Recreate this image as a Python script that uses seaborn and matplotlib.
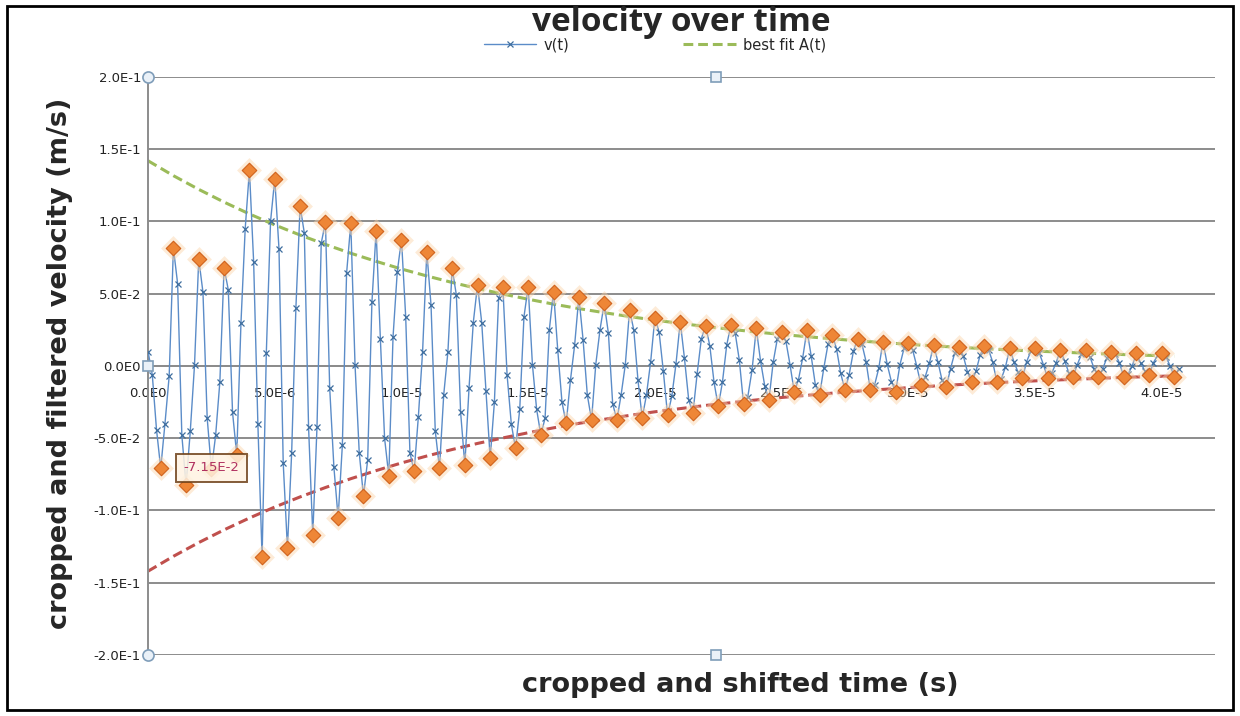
"""
Damped oscillation plot: velocity over time with fitted envelope.
"""

import numpy as np
import pandas as pd
import matplotlib.pyplot as plt
import seaborn as sns
from matplotlib.patches import Rectangle

# recording sample spacing (s)
SAMPLE_DT = 1e-6 / 6

# v(t) samples, mm/s
V_MMS = [
    10, -6, -44, -70.8, -40, -7,
    81.6, 57, -48, -82.4, -45, 0.7,
    74, 51, -36, -71.5, -48, -11,
    68, 52.6, -32, -61.6, 30, 95,
    135.6, 72, -40, -132.5, 9, 100,
    129.5, 81, -67, -126, -60, 40,
    110.5, 92, -42, -117, -42, 85,
    99.5, -15, -70, -105, -55, 64,
    98.7, 1, -60, -90, -65, 44,
    93.5, 19, -50, -76, 20, 65,
    87.5, 34, -60, -73, -35, 10,
    79, 42, -45, -70.8, -20, 10,
    67.6, 49, -32, -68.5, -15, 30,
    56, 30, -17, -63.9, -25, 47,
    54.9, -6, -40, -57, -30, 34,
    54.9, 1, -30, -47.8, -36, 25,
    51.4, 11, -25, -39.7, -10, 14.5,
    48, 18, -20, -37.4, 1, 25,
    43.3, 22.5, -26, -37.4, -20, 1,
    38.8, 25, -10, -36, -20, 3,
    33.5, 23.4, -3.6, -34, -21.1, 1.6,
    30.7, 5.3, -23.3, -32.8, -5.4, 18.9,
    28, 14, -11.2, -28, -11, 14.4,
    28.5, 23, 3.8, -26.5, -21.2, -2.9,
    26, 3.7, -13.6, -23.5, 2.5, 19,
    23.7, 17.4, 0.8, -18, -9.4, 5.7,
    25, 7, -13.2, -20, -1.3, 15.3,
    21.5, 12, -5.2, -16.6, -5.9, 10.1,
    19, 15.4, 3, -16.6, -13.3, -1.6,
    16.8, 1.2, -10.9, -17.8, 0.6, 12.4,
    15.7, 11.4, -0.1, -13, -7.5, 2.1,
    14.5, 3, -10, -14.3, -1.8, 9.2,
    13.4, 7.2, -4, -11.4, -3.8, 7.5,
    13.8, 11.3, 2.5, -11.4, -9, -0.8,
    12.2, 2.9, -4.4, -8.5, 2.9, 10.1,
    12.2, 9.1, 0.8, -8.5, -4.6, 2.2,
    11, 3.6, -4.6, -7.4, 0.9, 8.2,
    11, 6.4, -1.9, -7.4, -2.2, 5.6,
    9.9, 8.2, 2.1, -7.4, -5.8, -0.1,
    8.8, 2.1, -3.2, -6.2, 2.1, 7.3,
    8.8, 6.4, -0.1, -7.4, -2.0,
]

# best fit envelope A(t), read at whole microseconds
ENV_T_US = [0, 1, 2, 3, 4, 5, 6, 7, 8, 9, 10, 11, 12, 13, 14, 15, 16, 17, 18, 19, 20,
            21, 22, 23, 24, 25, 26, 27, 28, 29, 30, 31, 32, 33, 34, 35, 36, 37, 38, 39,
            40, 40.5]
ENV_MMS = [142.0, 131.7, 122.2, 113.4, 105.2, 97.6, 90.6, 84.1, 78.0, 72.4, 67.1,
           62.3, 57.8, 53.6, 49.8, 46.2, 42.8, 39.7, 36.9, 34.2, 31.7, 29.5, 27.3,
           25.4, 23.5, 21.8, 20.3, 18.8, 17.4, 16.2, 15.0, 13.9, 12.9, 12.0, 11.1,
           10.3, 9.6, 8.9, 8.2, 7.6, 7.1, 6.8]

Y_TICKS = [-0.2, -0.15, -0.1, -0.05, 0.0, 0.05, 0.1, 0.15, 0.2]
X_TICKS = [0, 5e-6, 1e-5, 1.5e-5, 2e-5, 2.5e-5, 3e-5, 3.5e-5, 4e-5]

COLORS = {
    'blue': '#5B8CC8',
    'marker': '#3F6E9E',
    'green': '#9BBB59',
    'red': '#C0504D',
    'orange': '#EE8636',
    'orange_edge': '#D0621C',
    'grid': '#8C8C8C',
}


def sci(v, digits=1):
    """Excel style 0.0E0 label."""
    mant, exp = f"{v:.{digits}E}".split("E")
    return f"{mant}E{int(exp)}"


sns.set_style("white")
plt.rcParams['font.family'] = ['DejaVu Sans']

t = np.arange(len(V_MMS)) * SAMPLE_DT
v = np.array(V_MMS) * 1e-3
df = pd.DataFrame({'t': t, 'v': v})

# orange diamonds: local maxima / minima of the signal
inner = v[1:-1]
is_max = np.r_[False, (inner > v[:-2]) & (inner > v[2:]), False]
is_min = np.r_[False, (inner < v[:-2]) & (inner < v[2:]), False]
peaks = df[is_max | is_min]

env = pd.DataFrame({'t': np.array(ENV_T_US) * 1e-6, 'A': np.array(ENV_MMS) * 1e-3})
env['negA'] = -env['A']

fig = plt.figure(figsize=(12.4, 7.16), dpi=100)
ax = fig.add_axes([0.1194, 0.0852, 0.8604, 0.8073])

ax.set_xlim(0, 4.21e-5)
ax.set_ylim(-0.2, 0.2)
ax.set_yticks(Y_TICKS)
ax.set_xticks(X_TICKS)
ax.yaxis.grid(True, color=COLORS['grid'], linewidth=1.4)
ax.set_axisbelow(True)

sns.lineplot(data=df, x='t', y='v', ax=ax, color=COLORS['blue'], linewidth=1.0,
             marker='x', markersize=4.5, markeredgecolor=COLORS['marker'],
             markeredgewidth=0.9, estimator=None, sort=False, label='v(t)', zorder=3)
sns.lineplot(data=env, x='t', y='A', ax=ax, color=COLORS['green'], linewidth=2.2,
             linestyle=(0, (3.2, 1.6)), estimator=None,
             label='best fit A(t)', zorder=2)
sns.lineplot(data=env, x='t', y='negA', ax=ax, color=COLORS['red'], linewidth=2.2,
             linestyle=(0, (3.2, 1.6)), estimator=None, legend=False, zorder=2)
# soft glow behind the diamonds
ax.scatter(peaks['t'], peaks['v'], s=160, marker='D', color='#FBD3A8', alpha=0.45,
           linewidths=0, zorder=4)
sns.scatterplot(data=peaks, x='t', y='v', ax=ax, marker='D', s=55,
                color=COLORS['orange'], edgecolor=COLORS['orange_edge'],
                linewidth=0.8, legend=False, zorder=5)

# data label on the third trough
lbl = peaks[peaks['v'] < 0].iloc[2]
ax.text(lbl['t'], lbl['v'] + 0.001, sci(lbl['v'], 2), ha='center', va='center',
        fontsize=9.5, color='#B03060', zorder=7,
        bbox=dict(boxstyle='square,pad=0.55', facecolor='#FFF3E2', alpha=0.85,
                  edgecolor='#6E4018', linewidth=1.4))

# axes styling
for side in ['top', 'right']:
    ax.spines[side].set_visible(False)
ax.spines['bottom'].set_position(('data', 0))
ax.spines['bottom'].set_color(COLORS['grid'])
ax.spines['bottom'].set_linewidth(1.4)
ax.spines['left'].set_color(COLORS['grid'])
ax.spines['left'].set_linewidth(1.4)
ax.tick_params(axis='x', direction='out', length=4, width=1, color=COLORS['grid'],
               pad=11, labelsize=9.5, labelcolor='#222222')
ax.tick_params(axis='y', length=0, pad=5, labelsize=9.5, labelcolor='#222222')
ax.set_xticklabels([sci(x) for x in X_TICKS])
ax.set_yticklabels([sci(y) for y in Y_TICKS])
ax.set_xlabel('')
ax.set_ylabel('')

# selection handles of the chart element
for hx, hy, mk in [(0, 1, 'o'), (0, 0, 'o'), (0, 0.5, 's'), (0.532, 1, 's'), (0.532, 0, 's')]:
    ax.plot(hx, hy, marker=mk, markersize=8 if mk == 'o' else 6.5, color='#EAF1F8',
            markeredgecolor='#7F9DB9', markeredgewidth=1.2, transform=ax.transAxes,
            clip_on=False, zorder=8)

ax.legend(loc='center', bbox_to_anchor=(0.475, 1.056), ncol=2, frameon=False,
          fontsize=10.5, handlelength=3.6, columnspacing=7.8, handletextpad=0.5)

fig.text(0.549, 0.968, 'velocity over time', ha='center', va='center', fontsize=24,
         fontweight='bold', family=['Open Sans', 'DejaVu Sans'])
fig.text(0.048, 0.493, 'cropped and filtered velocity (m/s)', ha='center', va='center',
         rotation=90, fontsize=19.5, fontweight='bold')
fig.text(0.597, 0.043, 'cropped and shifted time (s)', ha='center', va='center',
         fontsize=19.5, fontweight='bold')

fig.patches.append(Rectangle((0.006, 0.008), 0.988, 0.983, transform=fig.transFigure,
                             fill=False, edgecolor='black', linewidth=2))

fig.savefig('out.png', dpi=100)
